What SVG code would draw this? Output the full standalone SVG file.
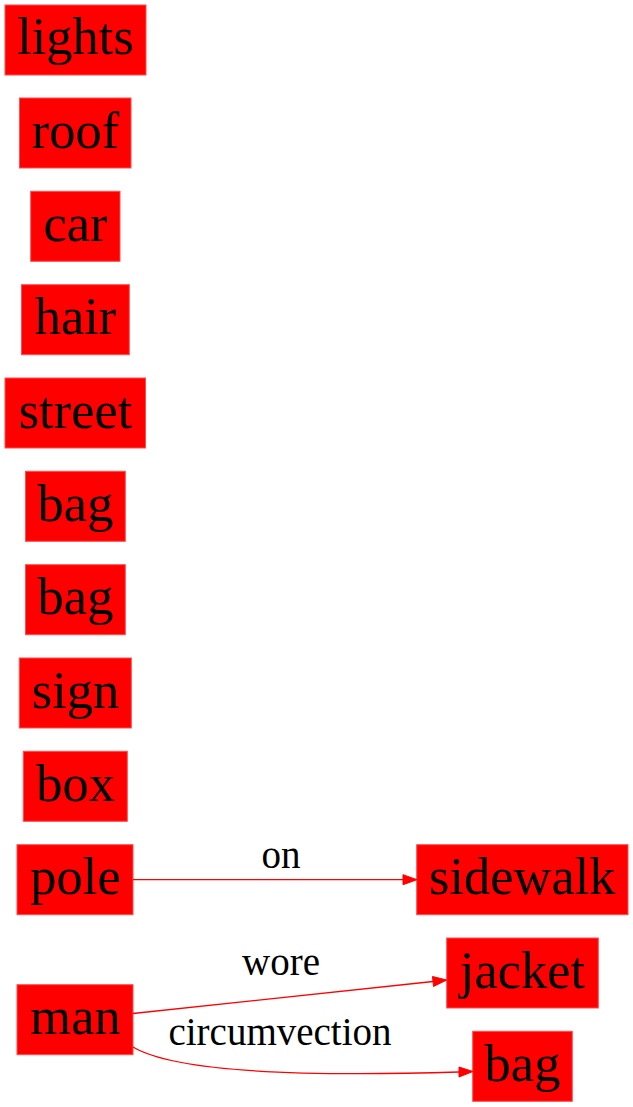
<svg xmlns="http://www.w3.org/2000/svg" width="633" height="1107" viewBox="0 0 633 1107">
<style>
.n rect{fill:#ff0000;stroke:#ff4d4d;stroke-width:1}
.n text{font-family:"Liberation Serif","Times New Roman",serif;font-size:52.5px;fill:#000;text-anchor:middle}
.e path{fill:none;stroke:#ff0000;stroke-width:1.3}
.e polygon{fill:#ff0000;stroke:#ff0000;stroke-width:1}
.e text{font-family:"Liberation Serif","Times New Roman",serif;font-size:39px;fill:#000;text-anchor:middle}
</style>
<rect width="633" height="1107" fill="#fff"/>
<g id="node-lights" class="n"><rect x="5" y="5" width="141" height="70"/><text x="75.5" y="54">lights</text></g>
<g id="node-roof" class="n"><rect x="19.5" y="98" width="111.5" height="70"/><text x="75.5" y="147.5">roof</text></g>
<g id="node-car" class="n"><rect x="30.7" y="191.3" width="89.3" height="70"/><text x="75.5" y="240.5">car</text></g>
<g id="node-hair" class="n"><rect x="21.5" y="284.7" width="107.8" height="70"/><text x="75.5" y="334">hair</text></g>
<g id="node-street" class="n"><rect x="5" y="378" width="140.5" height="70"/><text x="75.5" y="427.5">street</text></g>
<g id="node-bag1" class="n"><rect x="25.5" y="471.3" width="99.8" height="70"/><text x="75.5" y="520.5">bag</text></g>
<g id="node-bag2" class="n"><rect x="25.5" y="564.7" width="99.8" height="70"/><text x="75.5" y="614">bag</text></g>
<g id="node-sign" class="n"><rect x="19.3" y="658" width="112" height="70"/><text x="75.5" y="707.5">sign</text></g>
<g id="node-box" class="n"><rect x="23.3" y="751.3" width="104" height="70"/><text x="75.5" y="800.5">box</text></g>
<g id="node-pole" class="n"><rect x="17" y="844.7" width="116" height="70"/><text x="75.5" y="894">pole</text></g>
<g id="node-man" class="n"><rect x="17" y="984.7" width="116" height="70"/><text x="75.5" y="1034">man</text></g>
<g id="node-sidewalk" class="n"><rect x="416.7" y="844.7" width="211.3" height="70"/><text x="522.3" y="894">sidewalk</text></g>
<g id="node-jacket" class="n"><rect x="446.7" y="938" width="151.6" height="70"/><text x="522.5" y="987.5">jacket</text></g>
<g id="node-bag3" class="n"><rect x="472.7" y="1031.3" width="99.6" height="70"/><text x="522.5" y="1080.5">bag</text></g>
<g id="edges" class="e">
<g id="edge-pole-sidewalk"><path d="M133,879.7 L403,879.7"/><polygon points="403,874.7 417,879.7 403,884.7"/><text x="281" y="868">on</text></g>
<g id="edge-man-jacket"><path d="M133,1013.5 L433,981.5"/><polygon points="432.5,976.5 446.7,980 433.5,986.5"/><text x="281" y="975">wore</text></g>
<g id="edge-man-bag"><path d="M133,1047 C175,1072 300,1077 459,1072"/><polygon points="459,1067 473,1071.5 459,1077"/><text x="280" y="1045">circumvection</text></g>
</g>
</svg>
